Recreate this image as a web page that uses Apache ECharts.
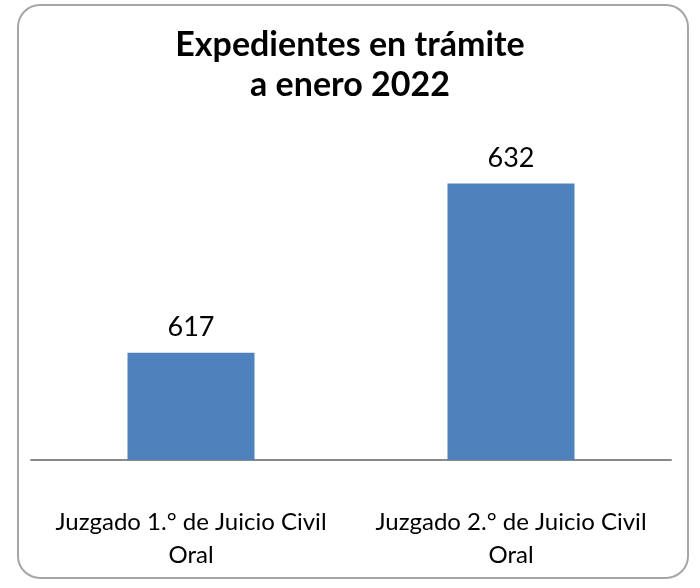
<!DOCTYPE html>
<html>
<head>
<meta charset="utf-8">
<script src="https://cdn.jsdelivr.net/npm/echarts@6/dist/echarts.min.js"></script>
<style>
  html, body { margin: 0; padding: 0; background: #fff; }
  #chart { width: 700px; height: 588px; }
</style>
</head>
<body>
<div id="chart"></div>
<script>
// datos del gráfico
const chartTitle = 'Expedientes en trámite\na enero 2022'
const juzgados = ['Juzgado 1.° de Juicio Civil Oral', 'Juzgado 2.° de Juicio Civil Oral']
const expedientes = [617, 632]

const chart = echarts.init(document.getElementById('chart'))
const fontName = 'Lato'

const option = {
  animation: false,
  // marco redondeado del gráfico
  graphic: [{
    type: 'rect',
    shape: { x: 18, y: 5, width: 670, height: 573, r: 22 },
    style: { fill: 'none', stroke: '#a6a6a6', lineWidth: 2 },
    silent: true
  }],
  title: {
    text: chartTitle,
    left: 'center',
    top: 20,
    textStyle: {
      fontFamily: fontName,
      fontSize: 34,
      fontWeight: 'bold',
      color: '#000',
      lineHeight: 40
    }
  },
  grid: {
    left: 31,
    right: 29,
    top: 161,
    bottom: 128,
    containLabel: false
  },
  xAxis: {
    type: 'category',
    data: juzgados,
    axisTick: { show: false },
    axisLine: { lineStyle: { color: '#898989', width: 2 } },
    axisLabel: {
      interval: 0,
      margin: 46,
      fontFamily: fontName,
      fontSize: 24,
      color: '#000',
      lineHeight: 33,
      formatter: v => v.replace(' Oral', '\nOral')
    }
  },
  yAxis: {
    type: 'value',
    min: 607.5,
    max: 634,
    show: false,
    splitLine: { show: false }
  },
  series: [{
    type: 'bar',
    data: expedientes,
    barWidth: 127,
    itemStyle: { color: '#4f81bd' },
    label: {
      show: true,
      position: 'top',
      distance: 12,
      fontFamily: fontName,
      fontSize: 27,
      color: '#000'
    }
  }]
}

chart.setOption(option)
</script>
</body>
</html>
